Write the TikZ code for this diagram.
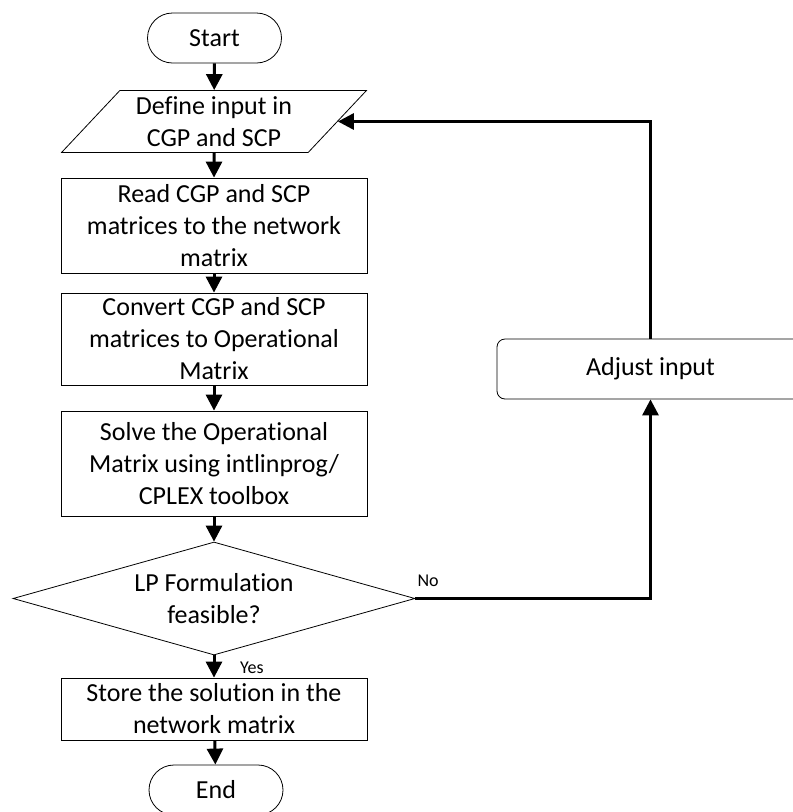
\documentclass[tikz,border=0pt]{standalone}
\usepackage{fontspec}
\setmainfont{Carlito}[Ligatures=NoCommon]
\usetikzlibrary{shapes.geometric,arrows.meta}
\tikzset{
  base/.style={draw, thick, align=center, font=\fontsize{26}{32}\selectfont, inner sep=0pt},
  terminal/.style={base, rounded corners=25pt, minimum width=134pt, minimum height=50pt},
  process/.style={base, minimum width=306pt},
  io/.style={base, trapezium, trapezium left angle=46, trapezium right angle=134,
    trapezium stretches=true, minimum width=305pt, minimum height=62pt},
  decision/.style={base, diamond, aspect=3.56, minimum width=402pt, minimum height=113pt},
  arr/.style={line width=3pt, -{Triangle[width=16pt,length=16pt]}},
  lbl/.style={font=\fontsize{18}{22}\selectfont, inner sep=0pt, anchor=base west}
}
\begin{document}
\begin{tikzpicture}[x=1pt, y=-1pt]
  \useasboundingbox (0,0) rectangle (793,812);
  % main column
  \node[terminal] (start) at (214.5,38) {Start};
  \node[io] (define) at (214,121.5) {Define input in\\CGP and SCP};
  \node[process, minimum height=95pt] (read) at (214,225.5) {Read CGP and SCP\\matrices to the network\\matrix};
  \node[process, minimum height=92pt] (convert) at (214,339) {Convert CGP and SCP\\matrices to Operational\\Matrix};
  \node[process, minimum height=105pt] (solve) at (214,463.5) {Solve the Operational\\Matrix using intlinprog/\\CPLEX toolbox};
  \node[decision] (decide) at (214,598.5) {LP Formulation\\feasible?};
  \node[process, minimum height=62pt] (store) at (214,709) {Store the solution in the\\network matrix};
  \node[terminal] (finish) at (216,790) {End};
  % loop back
  \node[base, rounded corners=8pt, minimum width=307pt, minimum height=60pt] (adjust) at (650.5,369) {Adjust input};
  \draw[arr] (start) -- (define);
  \draw[arr] (define) -- (read);
  \draw[arr] (read) -- (convert);
  \draw[arr] (convert) -- (solve);
  \draw[arr] (solve) -- (decide);
  \draw[arr] (decide) -- (store);
  \draw[arr] (store) -- (finish);
  \draw[arr] (decide.east) -| (adjust.south);
  \draw[arr] (adjust.north) |- (define.east);
  \node[lbl] (no) at ([xshift=2pt,yshift=12pt]decide.east) {No};
  \node[lbl] (yes) at ([xshift=26pt,yshift=-18pt]decide.south) {Yes};
\end{tikzpicture}
\end{document}
